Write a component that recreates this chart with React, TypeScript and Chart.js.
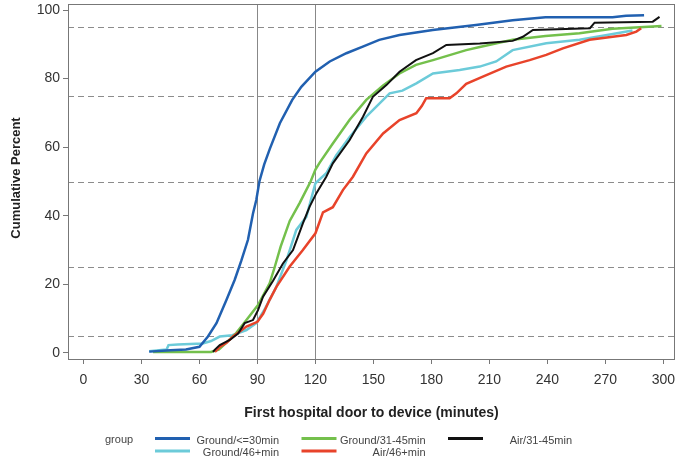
import React, { useEffect, useRef } from "react";
import { Chart, registerables } from "chart.js";

Chart.register(...registerables);

const X_TICKS = [0, 30, 60, 90, 120, 150, 180, 210, 240, 270, 300];
const Y_TICKS = [0, 20, 40, 60, 80, 100];
const REF_X = [90, 120];
const REF_Y = [5, 25, 50, 75, 95];

const X_TITLE = "First hospital door to device (minutes)";
const Y_TITLE = "Cumulative Percent";
const LEGEND_TITLE = "group";

const SERIES_NAMES = ["Ground/<=30min", "Ground/46+min", "Ground/31-45min", "Air/46+min", "Air/31-45min"];
const SERIES_COLORS = ["#2160b0", "#6ccbd9", "#74c04c", "#e8432a", "#111111"];

const groundLe30T = [34, 45, 53, 60, 64.4, 68.8, 74, 78.2, 81.7, 85.1, 87.7, 89.4, 91, 93.5, 96.4, 101.6, 108, 112.7, 120, 127.4, 136, 144.5, 153, 163.5, 180.7, 203, 222, 239, 273.7, 280.7, 290];
const groundLe30P = [0.4, 0.8, 1, 1.8, 4.8, 8.7, 15.5, 21.3, 27, 33, 40.7, 44.6, 50, 55, 59.5, 67, 73.8, 77.6, 82, 85, 87.4, 89.3, 91.3, 92.7, 94.2, 95.6, 97, 97.9, 97.9, 98.3, 98.5];

const ground46T = [34, 43, 44, 48.8, 61.7, 66, 70.5, 77, 84.3, 89.4, 94, 99.8, 105, 110.1, 115.3, 120, 125.6, 130.8, 137.7, 146.3, 151.5, 158.4, 165, 172.2, 180.8, 194.6, 205, 213.5, 222, 239.4, 256.6, 273.8, 284];
const ground46P = [0.5, 1, 2.3, 2.5, 2.8, 3.5, 4.8, 5.2, 6.7, 8.7, 13, 19.3, 27, 35.9, 39.7, 49.5, 52.4, 57.7, 63, 68.9, 71.8, 75.7, 76.5, 78.6, 81.5, 82.5, 83.5, 85, 88.3, 90.3, 91.3, 93, 94];

const ground3145T = [36, 50, 66, 70, 74, 79, 84.3, 90.3, 96.3, 98.9, 102, 106.7, 111.8, 117.5, 120, 122.2, 129, 137.7, 146.3, 155, 163.5, 172, 180.8, 198, 205, 222, 239, 256.6, 273.7, 287.7, 299];
const ground3145P = [0.3, 0.3, 0.3, 1, 3, 5.8, 9.6, 14, 20.3, 25, 31, 38.5, 43.7, 50, 53.5, 55.5, 61.1, 68, 73.8, 78, 81.5, 84, 85.4, 88.3, 89.2, 91.3, 92.4, 93.2, 94.5, 95, 95.3];

const air46T = [68, 70.5, 74, 77.4, 84.3, 90, 93, 96.3, 99.8, 106.7, 113.5, 120, 123.9, 129, 134.2, 139.4, 146.3, 155, 163.5, 172.2, 175, 177.3, 189.4, 192.9, 198, 206.6, 218.7, 230.8, 239.4, 248, 261.8, 273.8, 280.8, 286, 288.5];
const air46P = [0.3, 1.8, 3, 4.8, 7.7, 9.1, 11.5, 15.5, 19.3, 25.2, 30, 34.9, 41, 42.5, 47.5, 51.4, 58.2, 64, 67.9, 69.9, 72, 74.3, 74.3, 75.7, 78.5, 80.6, 83.5, 85.4, 86.9, 88.8, 91.3, 92.2, 92.7, 93.7, 94.7];

const air3145T = [67, 68, 70.5, 75.7, 80, 83.4, 87.7, 90.3, 92.9, 98, 103.2, 108.4, 113.5, 117, 120.5, 125.6, 129, 137.7, 144.6, 149.7, 156.7, 163.5, 172, 180.8, 187.7, 205, 222, 227.3, 232.5, 262, 264.4, 294.5, 298];
const air3145P = [0.3, 1, 2.3, 3.8, 5.7, 8.7, 9.6, 12.5, 16.4, 21, 26.1, 30, 37.8, 42.7, 46.6, 51.4, 55.3, 62.1, 68.9, 74.7, 78.1, 82, 85.4, 87.4, 89.8, 90.2, 91, 92.2, 94.2, 94.7, 96.3, 96.6, 98];

const SERIES_T = [groundLe30T, ground46T, ground3145T, air46T, air3145T];
const SERIES_P = [groundLe30P, ground46P, ground3145P, air46P, air3145P];

// legend grid: column, row for each series
const LEGEND_COL = [0, 0, 1, 1, 2];
const LEGEND_ROW = [0, 1, 0, 1, 0];

const FONT = "'Liberation Sans', Arial, Helvetica, sans-serif";

const decorPlugin = {
  id: "decor",
  beforeDatasetsDraw(chart: any) {
    const { ctx, chartArea: a, scales } = chart;
    ctx.save();
    ctx.strokeStyle = "#8c8c8c";
    ctx.lineWidth = 1;
    ctx.setLineDash([6, 4]);
    REF_Y.forEach((v) => {
      const y = Math.round(scales.y.getPixelForValue(v)) + 0.5;
      ctx.beginPath();
      ctx.moveTo(a.left, y);
      ctx.lineTo(a.right, y);
      ctx.stroke();
    });
    ctx.setLineDash([]);
    ctx.strokeStyle = "#888";
    REF_X.forEach((v) => {
      const x = Math.round(scales.x.getPixelForValue(v)) + 0.5;
      ctx.beginPath();
      ctx.moveTo(x, a.top);
      ctx.lineTo(x, a.bottom);
      ctx.stroke();
    });
    ctx.restore();
  },
  afterDraw(chart: any) {
    const { ctx, chartArea: a } = chart;
    ctx.save();
    ctx.strokeStyle = "#777";
    ctx.lineWidth = 1;
    ctx.strokeRect(Math.round(a.left) + 0.5, Math.round(a.top) + 0.5, Math.round(a.right - a.left) - 1, Math.round(a.bottom - a.top));

    // axis titles
    ctx.fillStyle = "#222";
    ctx.textAlign = "center";
    ctx.textBaseline = "middle";
    ctx.font = `bold 14px ${FONT}`;
    ctx.fillText(X_TITLE, (a.left + a.right) / 2, 413);
    ctx.save();
    ctx.translate(16, 178);
    ctx.rotate(-Math.PI / 2);
    ctx.font = `bold 13px ${FONT}`;
    ctx.fillText(Y_TITLE, 0, 0);
    ctx.restore();

    // legend
    ctx.font = `11px ${FONT}`;
    ctx.fillStyle = "#444";
    ctx.textAlign = "left";
    ctx.fillText(LEGEND_TITLE, 105, 440);
    SERIES_NAMES.forEach((name, i) => {
      const col = LEGEND_COL[i];
      const row = LEGEND_ROW[i];
      const lx = 155 + col * 146.5;
      const ly = 438.5 + row * 12.5;
      ctx.strokeStyle = SERIES_COLORS[i];
      ctx.lineWidth = 3;
      ctx.beginPath();
      ctx.moveTo(lx, ly);
      ctx.lineTo(lx + 35, ly);
      ctx.stroke();
      ctx.fillStyle = "#444";
      ctx.textAlign = "right";
      ctx.fillText(name, 279 + col * 146.5, ly + 2);
    });
    ctx.restore();
  },
};

export default function App() {
  const ref = useRef<HTMLCanvasElement | null>(null);

  useEffect(() => {
    document.body.style.margin = "0";
    const canvas = ref.current;
    if (!canvas) return;
    const datasets = SERIES_NAMES.map((name, i) => ({
      label: name,
      data: SERIES_T[i].map((t, j) => ({ x: t, y: SERIES_P[i][j] })),
      borderColor: SERIES_COLORS[i],
      backgroundColor: SERIES_COLORS[i],
      borderWidth: i === 4 ? 2 : 2.5,
      pointRadius: 0,
      tension: 0,
      fill: false,
      order: i === 0 ? 0 : 5 - i,
    }));
    const chart = new Chart(canvas, {
      type: "line",
      data: { datasets },
      plugins: [decorPlugin],
      options: {
        responsive: false,
        animation: false,
        devicePixelRatio: 1,
        layout: { padding: { left: 0, top: 4, right: 9, bottom: 0 } },
        plugins: { legend: { display: false }, tooltip: { enabled: false } },
        scales: {
          x: {
            type: "linear",
            min: -8,
            max: 306,
            afterBuildTicks: (s: any) => {
              s.ticks = X_TICKS.map((v) => ({ value: v }));
            },
            afterFit: (s: any) => {
              s.height = 103;
              s.paddingLeft = 0;
              s.paddingRight = 0;
            },
            grid: { drawOnChartArea: false, drawTicks: true, tickLength: 5, color: "#777" },
            border: { display: false },
            ticks: {
              font: { family: FONT, size: 14 },
              color: "#333",
              padding: 8,
              maxRotation: 0,
              autoSkip: false,
            },
          },
          y: {
            type: "linear",
            min: -1.75,
            max: 101.75,
            afterBuildTicks: (s: any) => {
              s.ticks = Y_TICKS.map((v) => ({ value: v }));
            },
            afterFit: (s: any) => {
              s.width = 68;
              s.paddingTop = 0;
              s.paddingBottom = 0;
            },
            grid: { drawOnChartArea: false, drawTicks: true, tickLength: 5, color: "#777" },
            border: { display: false },
            ticks: {
              font: { family: FONT, size: 14 },
              color: "#333",
              padding: 3,
              autoSkip: false,
            },
          },
        },
      },
    } as any);
    return () => chart.destroy();
  }, []);

  return (
    <div style={{ position: "absolute", left: 0, top: 0, width: 684, height: 462, background: "#fff" }}>
      <canvas ref={ref} width={684} height={462} style={{ display: "block", width: 684, height: 462 }} />
    </div>
  );
}
